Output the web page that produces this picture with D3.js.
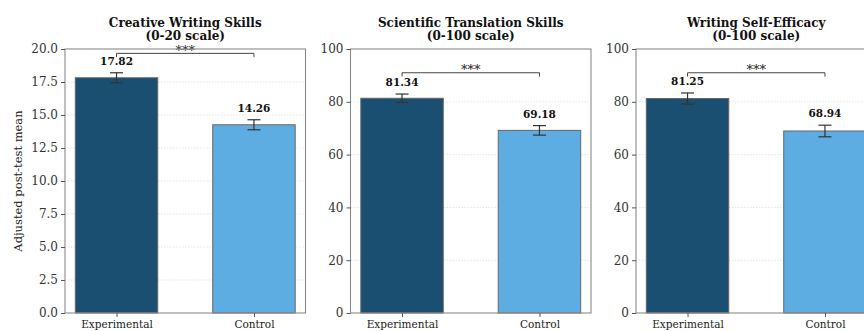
<!DOCTYPE html>
<html>
<head>
<meta charset="utf-8">
<script src="https://cdn.jsdelivr.net/npm/d3@7/dist/d3.min.js"></script>
<style>
  html, body { margin: 0; padding: 0; background: #fff; }
  svg { display: block; }
</style>
</head>
<body>
<svg id="chart" width="864" height="331"></svg>
<script>
// Groups compared in every panel
const groups = ["Experimental", "Control"];

// Panel titles (two lines each)
const titleLines = [
  ["Creative Writing Skills", "(0-20 scale)"],
  ["Scientific Translation Skills", "(0-100 scale)"],
  ["Writing Self-Efficacy", "(0-100 scale)"]
];

// Adjusted post-test means and their error half-widths
const creativeMeans = [17.82, 14.26];
const creativeErr = [0.38, 0.38];
const translationMeans = [81.34, 69.18];
const translationErr = [1.6, 1.8];
const efficacyMeans = [81.25, 68.94];
const efficacyErr = [2.1, 2.2];

// Y-axis ranges and tick values
const creativeTicks = [0, 2.5, 5, 7.5, 10, 12.5, 15, 17.5, 20];
const percentTicks = [0, 20, 40, 60, 80, 100];
const yMaxes = [20, 100, 100];

// Height of the significance bracket, in data units
const bracketLevels = [19.67, 91.0, 91.0];
const sigLabels = ["***", "***", "***"];

const barColors = ["#1b4f72", "#5dade2"];

const panels = [
  { title: titleLines[0], means: creativeMeans, err: creativeErr, ticks: creativeTicks, yMax: yMaxes[0], fmt: d3.format(".1f"), bracket: bracketLevels[0], sig: sigLabels[0] },
  { title: titleLines[1], means: translationMeans, err: translationErr, ticks: percentTicks, yMax: yMaxes[1], fmt: d3.format("d"), bracket: bracketLevels[1], sig: sigLabels[1] },
  { title: titleLines[2], means: efficacyMeans, err: efficacyErr, ticks: percentTicks, yMax: yMaxes[2], fmt: d3.format("d"), bracket: bracketLevels[2], sig: sigLabels[2] }
];

const svg = d3.select("#chart");
const font = "'DejaVu Serif', 'Liberation Serif', serif";

const panelLeft = [65, 350.5, 636];
const panelW = 240.5;
const plotTop = 49, plotBottom = 313;
const panelH = plotBottom - plotTop;

// Shared y-axis title
svg.append("text")
  .attr("transform", `translate(19,${(plotTop + plotBottom) / 2}) rotate(-90)`)
  .attr("text-anchor", "middle")
  .attr("dominant-baseline", "middle")
  .style("font-family", font)
  .style("font-size", "11.5px")
  .attr("fill", "#222")
  .text("Adjusted post-test mean");

panels.forEach((p, i) => {
  const g = svg.append("g").attr("transform", `translate(${panelLeft[i]},${plotTop})`);

  const x = d3.scaleLinear().domain([-0.375, 1.375]).range([0, panelW]);
  const y = d3.scaleLinear().domain([0, p.yMax]).range([panelH, 0]);
  const barW = x(0.6) - x(0);

  // Dotted horizontal grid
  g.append("g").selectAll("line")
    .data(p.ticks.slice(1, -1))
    .join("line")
    .attr("x1", 0).attr("x2", panelW)
    .attr("y1", d => y(d)).attr("y2", d => y(d))
    .attr("stroke", "#dcdcdc")
    .attr("stroke-width", 0.8)
    .attr("stroke-dasharray", "1.5,1.5");

  // Bars
  g.append("g").selectAll("rect")
    .data(p.means)
    .join("rect")
    .attr("x", (d, j) => x(j) - barW / 2)
    .attr("y", d => y(d))
    .attr("width", barW)
    .attr("height", d => y(0) - y(d))
    .attr("fill", (d, j) => barColors[j])
    .attr("stroke", "#666")
    .attr("stroke-width", 1);

  // Error bars
  const eb = g.append("g").attr("stroke", "#333").attr("stroke-width", 1.2);
  p.means.forEach((m, j) => {
    const cx = x(j), lo = y(m - p.err[j]), hi = y(m + p.err[j]);
    eb.append("line").attr("x1", cx).attr("x2", cx).attr("y1", lo).attr("y2", hi);
    eb.append("line").attr("x1", cx - 6.5).attr("x2", cx + 6.5).attr("y1", lo).attr("y2", lo);
    eb.append("line").attr("x1", cx - 6.5).attr("x2", cx + 6.5).attr("y1", hi).attr("y2", hi);
  });

  // Value labels above the error bars
  g.append("g").selectAll("text")
    .data(p.means)
    .join("text")
    .attr("x", (d, j) => x(j))
    .attr("y", (d, j) => y(d + p.err[j]) - 8)
    .attr("text-anchor", "middle")
    .style("font-family", font)
    .style("font-size", "10.5px")
    .style("font-weight", "bold")
    .attr("fill", "#111")
    .text(d => d.toFixed(2));

  // Significance bracket
  const by = y(p.bracket), tick = 3.8;
  g.append("path")
    .attr("d", `M${x(0)},${by + tick}V${by}H${x(1)}V${by + tick}`)
    .attr("fill", "none")
    .attr("stroke", "#444")
    .attr("stroke-width", 1);
  g.append("text")
    .attr("x", (x(0) + x(1)) / 2)
    .attr("y", by + 1.5)
    .attr("text-anchor", "middle")
    .style("font-family", font)
    .style("font-size", "13px")
    .attr("fill", "#222")
    .text(p.sig);

  // Frame
  g.append("rect")
    .attr("x", 0).attr("y", 0).attr("width", panelW).attr("height", panelH)
    .attr("fill", "none").attr("stroke", "#8a8a8a").attr("stroke-width", 1.1);

  // Y axis
  const yAxis = g.append("g")
    .call(d3.axisLeft(y).tickValues(p.ticks).tickFormat(p.fmt).tickSize(4).tickPadding(3));
  yAxis.select(".domain").remove();
  yAxis.selectAll(".tick line").attr("stroke", "#555");
  yAxis.selectAll(".tick text")
    .style("font-family", font).style("font-size", "12px").attr("fill", "#333");

  // X axis
  const xAxis = g.append("g").attr("transform", `translate(0,${panelH})`)
    .call(d3.axisBottom(x).tickValues([0, 1]).tickFormat(j => groups[j]).tickSize(4).tickPadding(4));
  xAxis.select(".domain").remove();
  xAxis.selectAll(".tick line").attr("stroke", "#555");
  xAxis.selectAll(".tick text")
    .style("font-family", font).style("font-size", "10.5px").attr("fill", "#222");

  // Title
  const t = svg.append("text")
    .attr("text-anchor", "middle")
    .style("font-family", font)
    .style("font-size", "12px")
    .style("font-weight", "bold")
    .attr("fill", "#111");
  p.title.forEach((line, k) => {
    t.append("tspan")
      .attr("x", panelLeft[i] + panelW / 2)
      .attr("y", 27 + k * 13)
      .text(line);
  });
});
</script>
</body>
</html>
